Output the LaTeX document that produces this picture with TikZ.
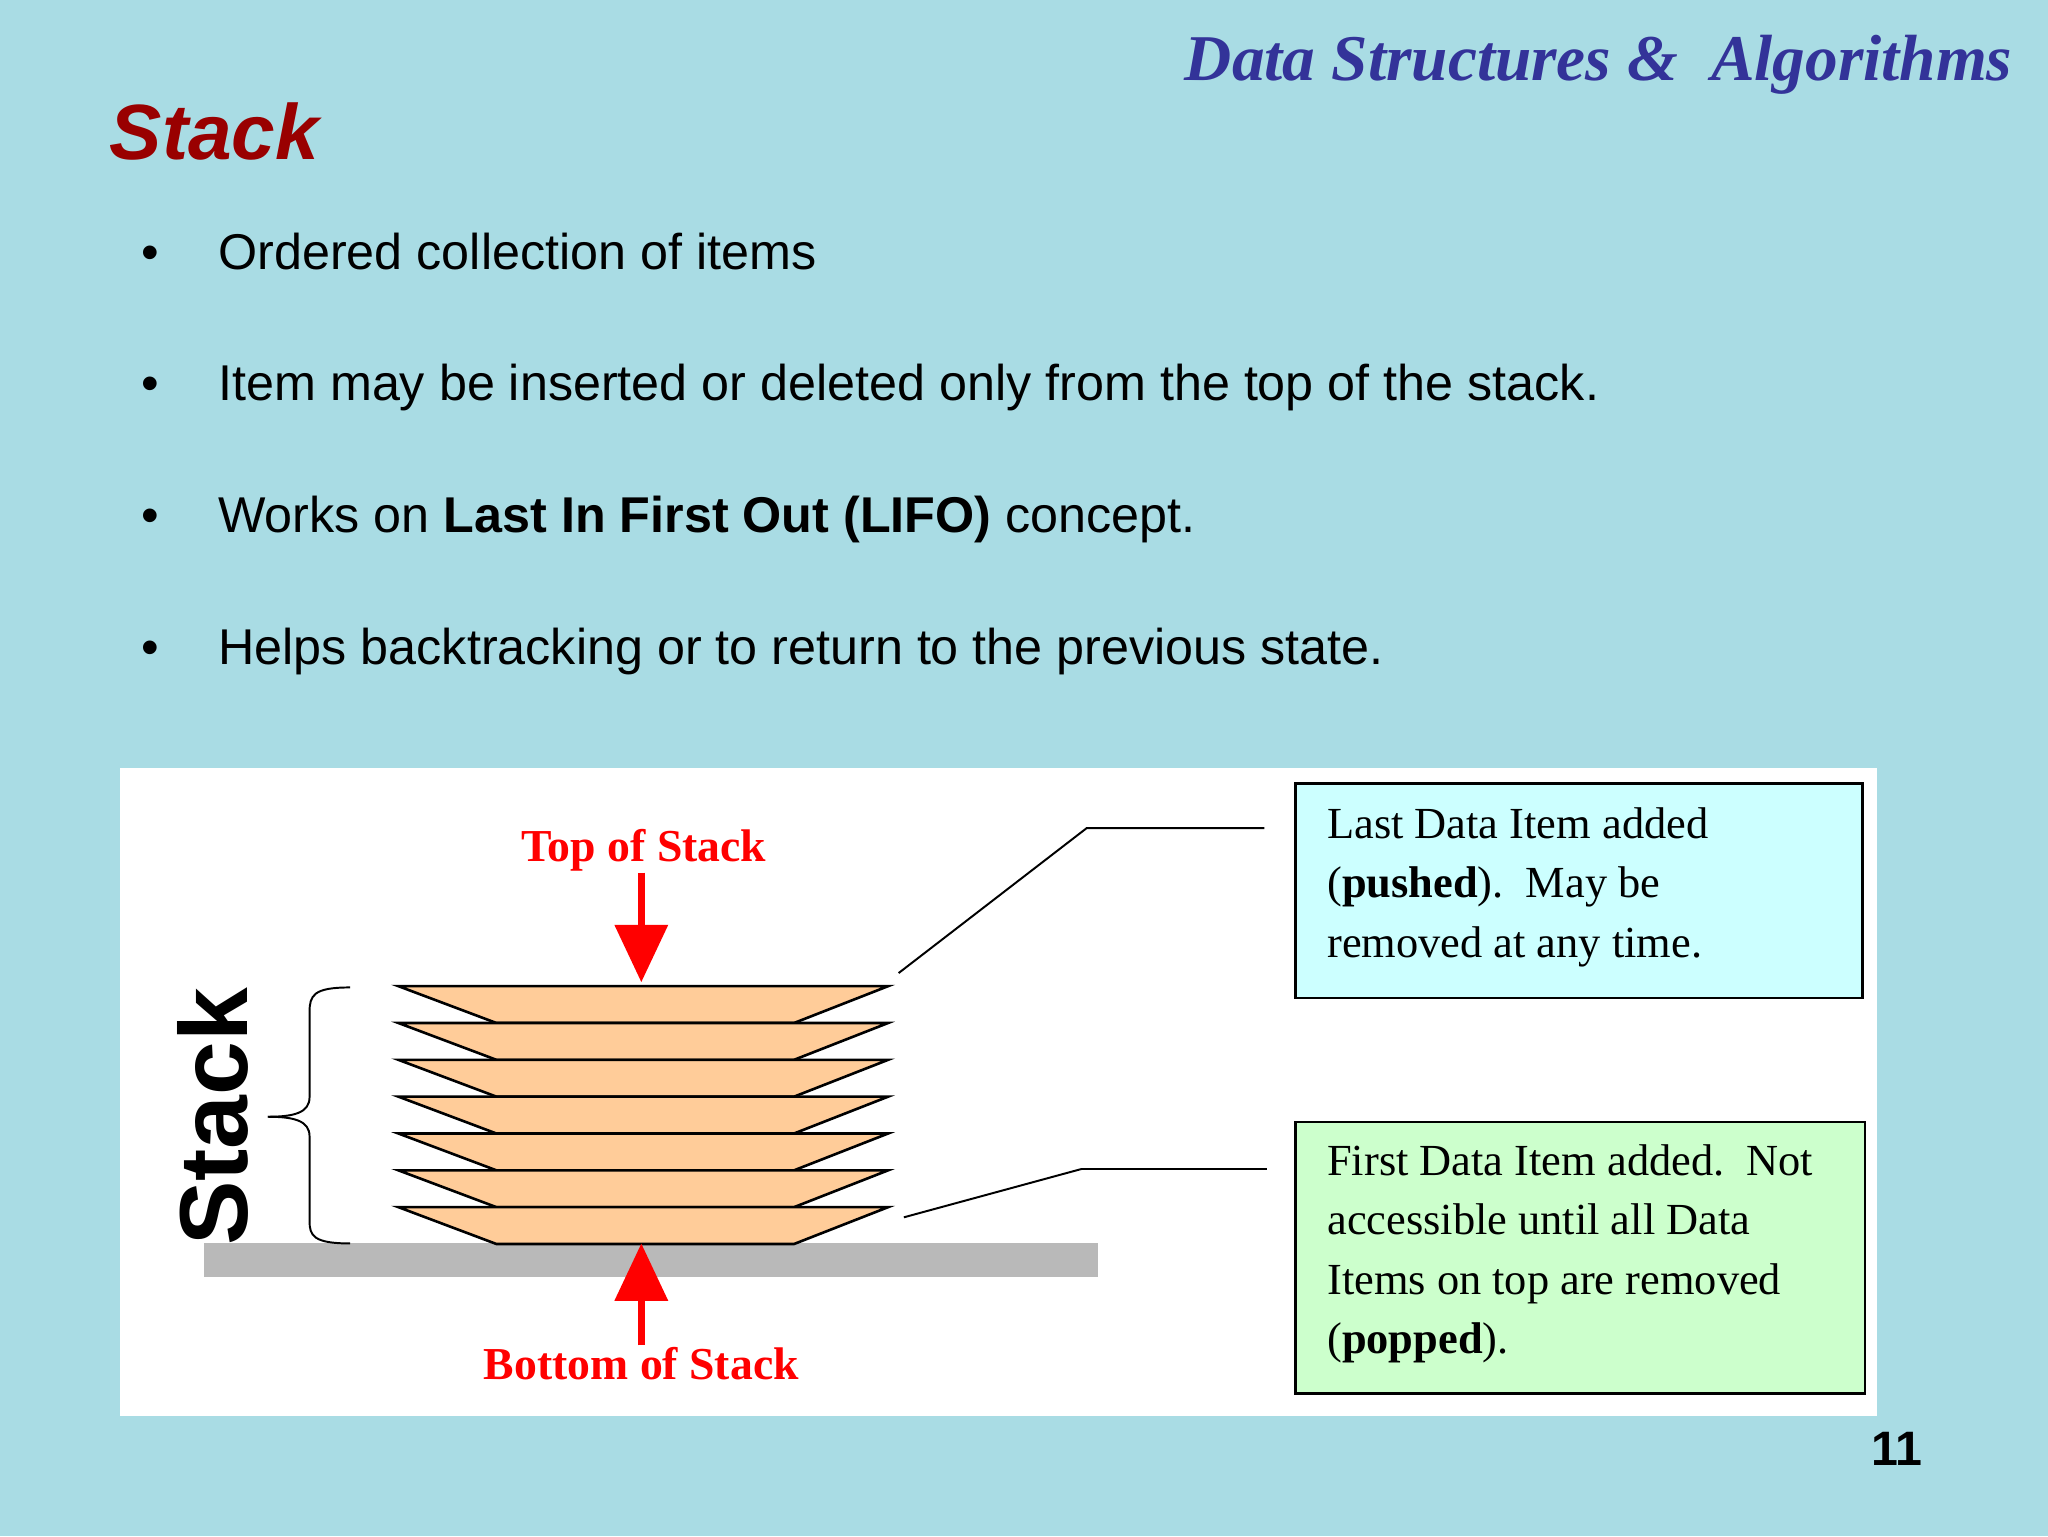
\documentclass[tikz,border=0pt]{standalone}
\usepackage{fontspec}
\setmainfont{Liberation Serif}
\newfontfamily\arial{Liberation Sans}
\usetikzlibrary{arrows.meta}
\definecolor{bgc}{HTML}{A9DCE4}
\definecolor{plate}{HTML}{FFCC99}
\definecolor{titlered}{HTML}{990000}
\definecolor{hdr}{HTML}{333399}
\definecolor{cyanbox}{HTML}{CCFFFF}
\definecolor{greenbox}{HTML}{CCFFCC}
\tikzset{
  bul/.style={anchor=base west,font=\arial\fontsize{38.5}{44}\selectfont,inner sep=0},
  note/.style={draw=black,line width=2pt,anchor=north west,inner sep=0},
  notetext/.style={anchor=north west,align=left,font=\fontsize{34}{45.5}\selectfont,inner sep=0},
  redlab/.style={text=red,font=\bfseries\fontsize{35}{40}\selectfont,inner sep=0},
  redarrow/.style={red,line width=5pt,-{Triangle[width=40pt,length=44pt]}},
  lead/.style={black,line width=1.5pt}
}
\begin{document}
\begin{tikzpicture}[x=1pt,y=-1pt]
\fill[bgc] (0,0) rectangle (1568,1176);
\useasboundingbox (0,0) rectangle (1568,1176);
\node[anchor=base west,text=hdr,font=\bfseries\itshape\fontsize{50}{52}\selectfont,inner sep=0] (hdr) at (907,62) {Data Structures \&\ \ Algorithms};
\node[anchor=base west,text=titlered,font=\arial\bfseries\itshape\fontsize{60}{60}\selectfont,inner sep=0] (title) at (84,122) {Stack};
\foreach \y/\t [count=\i] in {206/{Ordered collection of items},307/{Item may be inserted or deleted only from the top of the stack.},408/{Works on \textbf{Last In First Out (LIFO)} concept.},509/{Helps backtracking or to return to the previous state.}}{
  \node[bul] (bd\i) at (108,\y) {•};
  \node[bul] (b\i) at (167,\y) {\t};
}
\node[fill=white,anchor=north west,minimum width=1345pt,minimum height=496pt,inner sep=0] (panel) at (92,588) {};
\fill[gray!55] (156,952) rectangle (841,978);
\foreach \k in {0,...,6}{
  \pgfmathsetmacro{\yt}{755+28.2*\k}
  \draw[fill=plate,line width=2pt] (305,\yt) -- (680,\yt) -- (608,\yt+28.2) -- (380,\yt+28.2) -- cycle;
}
\node[rotate=90,font=\arial\bfseries\fontsize{74}{74}\selectfont,inner sep=0] (stk) at (163,855) {Stack};
\draw[line width=1.5pt] (268,756) .. controls (240,756) and (237,762) .. (237,775) -- (237,840) .. controls (237,852) and (225,855) .. (205,855);
\draw[line width=1.5pt] (268,952) .. controls (240,952) and (237,946) .. (237,935) -- (237,870) .. controls (237,858) and (225,855) .. (205,855);
\node[redlab] (top) at (493,651) {Top of Stack};
\draw[redarrow] (491,668) -- (491,752);
\node[redlab] (bot) at (491,1044) {Bottom of Stack};
\draw[redarrow] (491,1030) -- (491,952);
\node[note,fill=cyanbox,minimum width=434pt,minimum height=164pt] (n1) at (991,599) {};
\node[notetext] (t1) at (1016,618) {Last Data Item added\\(\textbf{pushed}).\ \ May be\\removed at any time.};
\node[note,fill=greenbox,minimum width=436pt,minimum height=208pt] (n2) at (991,858) {};
\node[notetext] (t2) at (1016,876) {First Data Item added.\ \ Not\\accessible until all Data\\Items on top are removed\\(\textbf{popped}).};
\coordinate (a1) at (688,745); \coordinate (a2) at (692,932);
\draw[lead] (a1) -- (832,634) -- (968,634);
\draw[lead] (a2) -- (828,895) -- (970,895);
\node[anchor=base east,font=\arial\bfseries\fontsize{37}{40}\selectfont,inner sep=0] (pg) at (1472,1122) {11};
\end{tikzpicture}
\end{document}
